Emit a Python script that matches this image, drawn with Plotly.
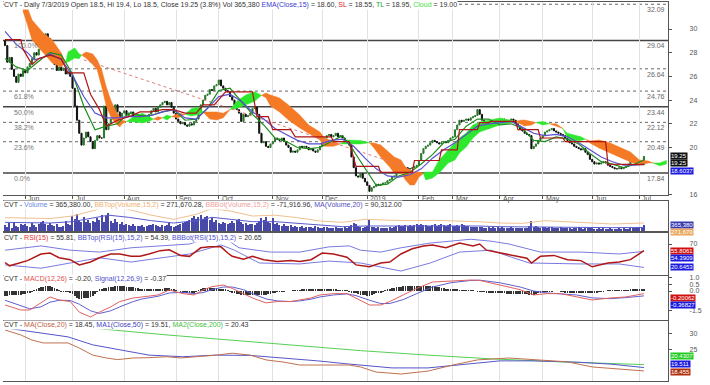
import plotly.graph_objects as go
from plotly.subplots import make_subplots

# ---------------- DATA ----------------
month_idx = [9, 30, 53, 76, 95, 119, 141, 161, 184, 199, 220, 239, 261, 282]
month_labels = ["Jun", "Jul", "Aug", "Sep", "Oct", "Nov", "Dec", "2019", "Feb", "Mar", "Apr", "May", "Jun", "Jul"]

first_open = 29.0
closes = [
    28.6, 27.2, 27.6, 26.6, 26.0, 25.5, 26.2, 26.0, 26.5, 26.3,
    26.8, 27.1, 27.5, 28.0, 27.8, 28.3, 28.9, 29.0, 29.6, 29.2,
    28.2, 27.9, 27.0, 26.5, 26.8, 26.5, 26.7, 26.2, 26.4, 26.0,
    25.0, 23.5, 22.3, 21.2, 20.2, 20.8, 21.3, 20.9, 20.5, 19.9,
    20.6, 21.0, 20.8, 20.8, 23.5, 21.5, 22.0, 22.4, 22.5, 23.6,
    23.0, 22.6, 22.9, 23.1, 22.7, 22.9, 23.0, 22.6, 22.8, 22.7,
    22.5, 22.3, 22.6, 22.4, 22.8, 23.1, 23.3, 23.0, 23.4, 23.6,
    23.8, 23.9, 23.6, 23.8, 23.4, 22.9, 22.4, 22.2, 22.0, 22.1,
    21.9, 21.8, 22.0, 21.9, 22.2, 22.4, 23.0, 23.6, 24.0, 24.4,
    24.5, 24.9, 24.8, 25.2, 25.3, 25.7, 25.2, 25.0, 24.8, 24.7,
    24.3, 24.0, 23.6, 23.2, 22.9, 22.2, 22.8, 22.6, 22.7, 22.9,
    23.3, 23.4, 22.8, 21.2, 20.4, 20.5, 20.1, 20.0, 20.3, 20.5,
    20.8, 20.7, 20.6, 20.8, 20.5, 20.2, 20.0, 19.6, 19.7, 19.6,
    19.8, 20.1, 20.0, 20.1, 20.0, 19.8, 19.9, 19.7, 19.6, 19.8,
    20.1, 20.4, 20.8, 21.0, 21.1, 20.9, 21.0, 21.2, 20.9, 21.0,
    20.8, 20.6, 20.4, 20.2, 19.2, 18.3, 17.6, 17.5, 17.8, 17.4,
    17.1, 16.8, 16.3, 16.6, 16.7, 16.9, 16.8, 16.9, 17.0, 17.0,
    17.2, 17.3, 17.5, 17.6, 17.9, 18.3, 18.4, 18.2, 18.3, 18.2,
    18.2, 18.3, 18.4, 18.5, 18.9, 19.5, 19.9, 20.1, 20.2, 20.4,
    20.6, 20.5, 20.4, 20.3, 20.4, 20.5, 20.4, 20.6, 20.8, 20.9,
    21.5, 21.9, 22.3, 22.2, 22.3, 22.4, 22.3, 22.5, 22.6, 22.7,
    23.2, 22.8, 22.3, 21.7, 21.6, 21.7, 21.8, 21.9, 22.1, 22.2,
    22.3, 22.4, 22.3, 22.2, 22.3, 22.4, 22.3, 22.0, 21.8, 21.5,
    21.4, 21.2, 21.1, 21.0, 19.9, 20.1, 20.3, 20.6, 20.8, 21.0,
    21.3, 21.4, 21.5, 21.6, 21.4, 21.3, 21.2, 21.1, 21.0, 20.8,
    20.6, 20.4, 20.3, 20.1, 20.0, 19.9, 19.8, 19.9, 19.6, 19.4,
    19.0, 18.8, 18.6, 18.7, 18.6, 18.7, 18.8, 18.7, 18.5, 18.4,
    18.3, 18.2, 18.2, 18.3, 18.2, 18.3, 18.4, 18.6, 18.8, 18.9,
    18.8, 18.8, 18.7, 18.55, 19.25,
]

volume_k = [
    380, 250, 480, 200, 520, 300, 260, 450, 340, 420,
    320, 260, 500, 360, 220, 400, 540, 600, 450, 380,
    500, 360, 300, 440, 260, 220, 330, 620, 410, 350,
    900, 720, 1000, 680, 560, 820, 520, 650, 460, 600,
    520, 760, 640, 950, 560, 880, 1100, 620, 480, 700,
    560, 440, 520, 380, 420, 340, 300, 400, 280, 330,
    300, 380, 240, 300, 340, 380, 420, 360, 300, 260,
    360, 280, 380, 460, 320, 260, 330, 380, 420, 480,
    520, 600, 680, 780, 900, 720, 860, 960, 700, 820,
    880, 640, 760, 560, 660, 500, 440, 560, 480, 420,
    460, 580, 500, 640, 720, 520, 440, 480, 360, 400,
    420, 360, 500, 600, 760, 640, 820, 560, 460, 780,
    400, 460, 340, 320, 420, 300, 280, 340, 260, 300,
    240, 220, 300, 200, 260, 220, 240, 200, 280, 220,
    200, 170, 220, 240, 190, 210, 180, 220, 200, 170,
    190, 230, 210, 270, 350, 460, 420, 300, 250, 210,
    240, 300, 660, 260, 240, 200, 220, 190, 210, 170,
    200, 240, 190, 260, 300, 340, 280, 320, 360, 300,
    340, 320, 380, 400, 360, 420, 380, 340, 300, 280,
    360, 400, 320, 380, 440, 340, 280, 360, 400, 320,
    300, 360, 320, 400, 350, 280, 300, 240, 270, 230,
    220, 260, 240, 210, 200, 230, 180, 250, 210, 240,
    200, 230, 170, 210, 190, 240, 210, 180, 200, 170,
    180, 210, 170, 300, 600, 260, 300, 230, 210, 270,
    240, 200, 230, 260, 210, 190, 170, 230, 200, 180,
    210, 180, 150, 200, 170, 230, 180, 150, 210, 180,
    170, 200, 150, 140, 180, 120, 170, 150, 140, 170,
    140, 120, 150, 170, 120, 190, 150, 140, 170, 200,
    190, 230, 170, 210, 365.38,
]

macd_hist = [
    -0.36, -0.35, -0.34, -0.33, -0.32, -0.31, -0.30, -0.29, -0.25, -0.20,
    -0.14, -0.09, -0.02, 0.05, 0.12, 0.20, 0.28, 0.32, 0.36, 0.39,
    0.40, 0.32, 0.22, 0.12, 0.02, -0.01, -0.03, -0.05, -0.06, -0.08,
    -0.20, -0.35, -0.50, -0.60, -0.58, -0.55, -0.52, -0.50, -0.47, -0.35,
    -0.20, -0.05, 0.10, 0.15, 0.20, 0.25, 0.28, 0.30, 0.33, 0.36,
    0.38, 0.40, 0.38, 0.36, 0.33, 0.30, 0.28, 0.27, 0.24, 0.20,
    0.17, 0.15, 0.14, 0.13, 0.12, 0.11, 0.10, 0.10, 0.10, 0.12,
    0.15, 0.19, 0.22, 0.23, 0.18, 0.12, 0.06, 0.00, -0.05, -0.10,
    -0.10, -0.11, -0.11, -0.10, -0.10, -0.02, 0.06, 0.13, 0.20, 0.21,
    0.22, 0.23, 0.23, 0.22, 0.20, 0.18, 0.16, 0.15, 0.10, 0.05,
    -0.02, -0.10, -0.15, -0.20, -0.25, -0.28, -0.30, -0.31, -0.32, -0.33,
    -0.33, -0.33, -0.32, -0.32, -0.31, -0.30, -0.30, -0.26, -0.20, -0.12,
    -0.08, -0.05, -0.03, -0.02, -0.01, 0.00, 0.00, 0.00, 0.02, 0.04,
    0.06, 0.07, 0.08, 0.08, 0.09, 0.09, 0.09, 0.10, 0.12, 0.14,
    0.15, 0.14, 0.13, 0.12, 0.11, 0.10, 0.09, 0.08, 0.06, 0.05,
    0.04, 0.03, 0.02, -0.04, -0.10, -0.15, -0.18, -0.22, -0.27, -0.31,
    -0.34, -0.36, -0.36, -0.30, -0.22, -0.16, -0.12, -0.11, -0.05, 0.02,
    0.10, 0.15, 0.20, 0.25, 0.28, 0.31, 0.33, 0.35, 0.37, 0.38,
    0.39, 0.40, 0.40, 0.40, 0.40, 0.39, 0.39, 0.38, 0.38, 0.38,
    0.38, 0.35, 0.32, 0.28, 0.24, 0.20, 0.17, 0.14, 0.13, 0.11,
    0.10, 0.08, 0.07, 0.06, 0.05, 0.04, 0.03, 0.03, 0.02, 0.00,
    -0.01, -0.02, -0.04, -0.06, -0.08, -0.10, -0.12, -0.14, -0.16, -0.17,
    -0.17, -0.18, -0.18, -0.19, -0.19, -0.20, -0.20, -0.20, -0.20, -0.20,
    -0.22, -0.24, -0.26, -0.28, -0.30, -0.30, -0.22, -0.15, -0.10, -0.06,
    -0.05, -0.03, -0.02, -0.01, 0.00, 0.00, 0.00, -0.02, -0.05, -0.08,
    -0.10, -0.12, -0.14, -0.15, -0.15, -0.16, -0.16, -0.16, -0.16, -0.16,
    -0.16, -0.15, -0.12, -0.10, -0.07, -0.05, -0.02, 0.00, 0.02, 0.04,
    0.05, 0.05, 0.05, 0.05, 0.05, 0.05, 0.05, 0.06, 0.08, 0.10,
    0.12, 0.13, 0.14, 0.15, 0.17,
]

# price-pane indicators (sampled)
ema_idx = [0, 5, 10, 13, 17, 20, 25, 30, 35, 40, 45, 50, 55, 60, 65, 70, 75, 80, 85, 90, 95, 100, 105, 110, 115,
           120, 125, 130, 135, 140, 145, 150, 155, 160, 165, 170, 175, 180, 185, 190, 195, 200, 205, 210, 215, 220,
           225, 230, 235, 240, 245, 250, 255, 260, 265, 270, 275, 280, 284]
ema15 = [29.8, 28.7, 28.0, 27.4, 27.6, 27.9, 27.4, 26.1, 24.3, 22.9, 22.5, 22.5, 22.6, 22.6, 22.7, 23.0, 23.2, 22.5,
         22.4, 23.3, 24.3, 24.5, 23.9, 23.0, 22.4, 21.6, 21.1, 20.6, 20.3, 20.3, 20.6, 20.7, 20.1, 19.1, 18.2, 17.6,
         17.5, 17.7, 18.2, 19.1, 19.8, 20.4, 21.1, 21.8, 22.0, 22.1, 22.2, 21.7, 21.2, 21.0, 21.1, 20.9, 20.4, 19.8,
         19.2, 18.8, 18.5, 18.5, 18.6]
tl_idx = ema_idx
tl = [27.5, 26.8, 26.5, 27.0, 27.6, 28.0, 27.8, 26.2, 23.5, 21.5, 21.8, 22.0, 22.9, 22.7, 22.7, 23.0, 23.2, 22.3,
      22.4, 23.3, 24.8, 25.0, 23.9, 22.8, 21.9, 20.8, 20.5, 20.0, 19.9, 20.0, 20.5, 21.0, 19.7, 18.2, 16.8, 16.9,
      17.6, 17.9, 18.6, 19.4, 20.4, 20.7, 21.8, 22.4, 22.4, 21.9, 22.0, 21.6, 20.6, 20.5, 20.9, 20.7, 20.3, 19.5,
      18.8, 18.6, 18.3, 18.6, 18.95]
sl_idx = [0, 7, 8, 12, 15, 20, 25, 28, 35, 38, 42, 45, 50, 55, 60, 65, 70, 75, 80, 85, 88, 93, 98, 110, 112, 117,
          119, 127, 129, 145, 146, 153, 156, 166, 167, 181, 182, 193, 194, 201, 202, 210, 211, 215, 216, 227, 228,
          237, 238, 248, 249, 267, 268, 284]
sl = [29.1, 29.1, 28.3, 27.0, 27.5, 27.8, 27.5, 26.3, 26.3, 24.5, 23.2, 21.8, 22.3, 22.6, 23.0, 23.0, 23.2, 23.2,
      22.9, 22.9, 23.6, 23.6, 24.7, 24.7, 22.6, 22.6, 21.5, 21.5, 20.9, 20.9, 20.5, 20.5, 18.4, 18.4, 17.9, 17.9,
      18.9, 18.9, 19.8, 19.8, 21.5, 21.5, 22.1, 22.1, 22.2, 22.2, 21.5, 21.5, 20.8, 20.8, 20.5, 20.5, 18.6, 18.55]

# Ichimoku cloud (already shifted forward)
cloud_idx = [8, 10, 12, 17, 21, 25, 26, 27, 28, 31, 33, 34, 36, 39, 41, 43, 45, 47, 49, 51, 52, 54, 58, 61, 64, 66,
             68, 70, 72, 74, 77, 80, 83, 86, 88, 91, 94, 97, 100, 103, 107, 111, 114, 116, 118, 122, 126, 131, 135,
             140, 142, 146, 149, 152, 158, 162, 164, 167, 171, 173, 176, 178, 180, 182, 184, 186, 187, 190, 193, 197,
             200, 202, 205, 208, 211, 216, 220, 224, 227, 229, 231, 234, 236, 239, 242, 245, 248, 250, 253, 256, 258,
             260, 264, 269, 273, 278, 282, 286, 288, 291, 294]
cloud_top = [33.0, 31.77, 30.76, 29.66, 29.07, 27.97, 27.5, 27.2, 28.06, 28.4, 27.9, 27.8, 28.06, 27.9, 27.38, 26.54,
             25.11, 24.0, 23.16, 22.57, 22.3, 22.2, 22.7, 22.9, 22.6, 22.4, 22.6, 22.5, 22.74, 22.6, 22.9, 22.8,
             23.3, 23.4, 23.0, 23.0, 23.0, 22.9, 23.2, 23.9, 24.43, 24.7, 24.4, 24.6, 24.43, 24.18, 23.59, 22.74,
             21.9, 21.3, 20.8, 20.5, 20.3, 20.63, 20.6, 20.4, 20.38, 20.21, 19.54, 19.2, 18.95, 18.35, 18.1, 17.93,
             17.93, 17.8, 17.93, 17.93, 18.95, 19.79, 20.38, 20.8, 21.22, 21.9, 22.15, 22.32, 22.49, 22.32, 22.2,
             22.3, 22.32, 22.2, 22.1, 22.2, 22.0, 22.0, 21.6, 21.2, 21.05, 20.9, 20.7, 20.55, 20.63, 20.38, 20.04,
             19.62, 18.95, 18.85, 18.7, 18.7, 18.9]
cloud_bot = [31.5, 30.34, 29.07, 27.97, 27.13, 26.79, 27.0, 27.2, 27.21, 27.55, 27.5, 27.8, 27.55, 27.0, 26.54, 25.11,
             23.5, 22.6, 22.07, 21.73, 22.0, 22.2, 22.15, 22.07, 22.2, 22.4, 22.3, 22.5, 22.32, 22.6, 22.5, 22.8,
             22.65, 22.8, 23.0, 22.4, 22.32, 22.5, 23.2, 23.3, 23.6, 23.9, 24.4, 24.2, 23.5, 23.0, 22.32, 21.65,
             21.2, 20.63, 20.1, 20.1, 20.3, 20.3, 20.3, 20.4, 19.96, 19.2, 18.35, 17.85, 17.85, 17.26, 16.84, 16.84,
             17.5, 17.8, 17.26, 17.43, 17.85, 18.69, 18.95, 19.54, 20.04, 20.8, 21.31, 21.65, 21.9, 22.07, 22.2,
             22.0, 21.81, 21.9, 22.1, 21.9, 22.0, 21.8, 21.6, 20.8, 20.55, 20.6, 20.7, 20.38, 19.96, 19.54, 19.2,
             18.78, 18.52, 18.7, 18.7, 18.45, 18.6]
cloud_is_green = [False, False, False, False, False, False, False, None, True, True, True, None, False, False, False,
                  False, False, False, False, False, False, None, True, True, True, None, False, None, True, None,
                  False, None, True, True, None, False, False, False, None, True, True, True, None, False, False,
                  False, False, False, False, False, False, False, None, True, True, None, False, False, False, False,
                  False, False, False, False, False, None, True, True, True, True, True, True, True, True, True, True,
                  True, True, None, False, False, False, None, True, None, False, None, True, True, True, None, False,
                  False, False, False, False, False, False, None, True, True]

trend_idx = [35, 176]
trend_val = [27.4, 18.5]

fib_levels = [32.09, 29.04, 26.64, 24.76, 23.44, 22.12, 20.49, 17.84]
fib_solid = [False, True, False, False, True, False, False, True]
fib_pct = {29.04: "100.0%", 24.76: "61.8%", 23.44: "50.0%", 22.12: "38.2%", 20.49: "23.6%", 17.84: "0.0%"}

volma_idx = [0, 10, 20, 30, 40, 46, 55, 65, 75, 85, 92, 100, 110, 120, 130, 140, 150, 160, 170, 180, 190, 200, 210,
             220, 230, 240, 250, 260, 270, 284]
vol_ma = [520, 500, 480, 560, 800, 950, 820, 620, 480, 620, 820, 720, 560, 560, 450, 330, 260, 300, 300, 320, 340,
          330, 300, 260, 240, 260, 240, 220, 200, 210]
vol_bbtop = [800, 760, 750, 900, 1250, 1600, 1300, 950, 700, 1000, 1350, 1200, 900, 950, 800, 600, 520, 700, 650,
             620, 640, 620, 560, 480, 460, 620, 560, 480, 420, 480]

rsi_idx = [0, 2, 10, 16, 20, 24, 29, 33, 38, 42, 47, 51, 56, 60, 64, 69, 73, 78, 82, 87, 91, 96, 99, 101, 106, 110,
           115, 121, 127, 131, 136, 141, 146, 152, 156, 162, 167, 171, 176, 181, 186, 190, 196, 202, 208, 211, 214,
           220, 226, 232, 234, 238, 244, 250, 256, 261, 268, 273, 278, 281, 284]
rsi = [31, 24, 35, 49, 51, 41, 37, 26, 32, 41, 49, 49, 44, 44, 49, 56, 58, 46, 44, 62, 64, 64, 51, 44, 38, 44, 37,
       33, 35, 33, 37, 51, 49, 42, 26, 22, 30, 32, 49, 60, 66, 68, 62, 72, 66, 70, 57, 51, 46, 40, 30, 44, 46, 37,
       35, 22, 30, 32, 37, 46, 55.81]
rsib_idx = [0, 16, 29, 42, 56, 69, 82, 89, 94, 99, 104, 118, 131, 144, 153, 158, 167, 176, 189, 207, 216, 224, 238,
            256, 273, 284]
rsi_bbtop = [57, 66, 57, 53, 62, 66, 70, 80, 85, 78, 62, 53, 53, 64, 66, 57, 53, 62, 72, 80, 76, 70, 53, 53, 49, 54.39]
rsil_idx = [0, 16, 29, 42, 56, 69, 82, 96, 102, 113, 131, 144, 158, 176, 189, 202, 216, 224, 233, 256, 273, 284]
rsi_bbbot = [26, 19, 30, 41, 32, 41, 49, 68, 57, 30, 28, 34, 30, 13, 30, 53, 57, 44, 30, 28, 28, 20.65]

macd_idx = [0, 7, 11, 16, 20, 24, 29, 33, 38, 42, 47, 51, 57, 61, 68, 73, 79, 84, 88, 92, 97, 101, 106, 110, 116,
            121, 127, 131, 136, 140, 146, 152, 156, 162, 167, 171, 177, 183, 190, 198, 207, 211, 220, 229, 235, 241,
            247, 254, 261, 269, 276, 284]
macd = [-1.06, -1.44, -1.44, -0.9, -0.45, -0.68, -0.8, -1.6, -1.97, -1.6, -1.2, -0.8, -0.53, -0.45, -0.3, 0.08,
        -0.2, -0.3, 0.08, 0.33, 0.45, 0.2, -0.2, -0.53, -0.9, -0.8, -0.8, -0.68, -0.53, -0.3, -0.2, -0.2, -0.53,
        -1.06, -1.06, -0.8, -0.3, 0.2, 0.68, 0.75, 0.83, 0.8, 0.45, 0.1, -0.3, -0.2, -0.2, -0.45, -0.68, -0.53,
        -0.45, -0.20]
signal = [-0.7, -1.15, -1.35, -1.2, -0.85, -0.7, -0.72, -1.0, -1.5, -1.7, -1.5, -1.2, -0.8, -0.6, -0.4, -0.15,
          -0.1, -0.2, -0.12, 0.1, 0.3, 0.3, 0.1, -0.2, -0.6, -0.75, -0.8, -0.75, -0.62, -0.45, -0.3, -0.22, -0.35,
          -0.7, -0.95, -0.95, -0.65, -0.2, 0.3, 0.62, 0.8, 0.82, 0.62, 0.3, 0.0, -0.15, -0.2, -0.3, -0.52, -0.58,
          -0.5, -0.37]

ma20_idx = [0, 7, 12, 17, 28, 33, 39, 45, 50, 57, 64, 72, 78, 87, 94, 101, 109, 116, 124, 131, 139, 146, 153, 158,
            165, 176, 188, 199, 210, 224, 235, 250, 261, 273, 284]
ma20 = [31.25, 29.7, 28.1, 27.2, 27.2, 25.6, 23.4, 22.5, 22.0, 22.5, 22.6, 22.9, 22.5, 22.9, 23.4, 24.0, 23.4, 21.9,
        21.2, 20.3, 20.3, 20.5, 20.3, 19.7, 18.1, 17.5, 18.4, 20.3, 21.9, 22.5, 22.0, 21.3, 19.7, 19.1, 18.45]
ma50_idx = [0, 12, 28, 39, 51, 64, 79, 94, 109, 124, 139, 153, 158, 172, 188, 202, 220, 235, 254, 269, 284]
ma50 = [31.9, 30.6, 29.1, 26.6, 25.0, 23.4, 22.9, 23.4, 23.3, 22.5, 21.6, 20.6, 20.3, 19.4, 19.4, 20.3, 21.6, 21.6,
        21.2, 20.6, 19.51]
ma200_idx = [0, 33, 72, 116, 158, 188, 217, 247, 284]
ma200 = [32.8, 32.2, 29.7, 27.2, 24.8, 23.4, 22.2, 21.3, 20.43]

# ---------------- FIGURE ----------------
n = len(closes)
idx = list(range(n))
opens = [first_open] + closes[:-1]
highs = [max(o, c) for o, c in zip(opens, closes)]
lows = [min(o, c) for o, c in zip(opens, closes)]

fig = make_subplots(rows=5, cols=1, shared_xaxes=True, vertical_spacing=0)

M_T, M_B, H = 2, 4, 379


def py(px):
    return 1 - (px - M_T) / H


def px_x(px):
    return (px - 3) / 665.0


ORANGE = "#f47a25"
GREEN = "#2ee82e"

# cloud polygons
pts = list(zip(cloud_idx, cloud_top, cloud_bot, cloud_is_green))
segs = []
cur = []
for p in pts:
    if p[3] is None:
        cur.append(p)
        if len(cur) > 1:
            segs.append(cur)
        cur = [p]
    else:
        cur.append(p)
if len(cur) > 1:
    segs.append(cur)
for s in segs:
    flags = [q[3] for q in s if q[3] is not None]
    if not flags:
        continue
    col = GREEN if flags[0] else ORANGE
    xs = [q[0] for q in s]
    fig.add_trace(go.Scatter(x=xs + xs[::-1], y=[q[1] for q in s] + [q[2] for q in s][::-1],
                             fill="toself", fillcolor=col, mode="lines",
                             line=dict(color=col, width=0.5), hoverinfo="skip", showlegend=False), row=1, col=1)

fig.add_trace(go.Scatter(x=trend_idx, y=trend_val, mode="lines",
                         line=dict(color="#e07a7a", width=1, dash="dot"), showlegend=False), row=1, col=1)

fig.add_trace(go.Candlestick(x=idx, open=opens, high=highs, low=lows, close=closes,
                             increasing=dict(line=dict(color="#2a7a2a", width=1), fillcolor="#2a7a2a"),
                             decreasing=dict(line=dict(color="#111111", width=1), fillcolor="#111111"),
                             showlegend=False), row=1, col=1)
fig.add_trace(go.Scatter(x=tl_idx, y=tl, mode="lines", line=dict(color="#1e8c1e", width=1.2), showlegend=False),
              row=1, col=1)
fig.add_trace(go.Scatter(x=ema_idx, y=ema15, mode="lines", line=dict(color="#5a4fd0", width=1.2),
                         showlegend=False), row=1, col=1)
fig.add_trace(go.Scatter(x=sl_idx, y=sl, mode="lines", line=dict(color="#b01515", width=1.2), showlegend=False),
              row=1, col=1)

# volume
fig.add_trace(go.Bar(x=idx, y=volume_k, marker=dict(color="#4848a8", line=dict(width=0)), width=0.5,
                     showlegend=False), row=2, col=1)
fig.add_trace(go.Scatter(x=volma_idx, y=vol_bbtop, mode="lines", line=dict(color="#f0c090", width=1),
                         showlegend=False), row=2, col=1)
fig.add_trace(go.Scatter(x=volma_idx, y=vol_ma, mode="lines", line=dict(color="#5a5ad0", width=1),
                         showlegend=False), row=2, col=1)

# RSI
fig.add_trace(go.Scatter(x=rsib_idx, y=rsi_bbtop, mode="lines", line=dict(color="#7a7ae0", width=1),
                         showlegend=False), row=3, col=1)
fig.add_trace(go.Scatter(x=rsil_idx, y=rsi_bbbot, mode="lines", line=dict(color="#7a7ae0", width=1),
                         showlegend=False), row=3, col=1)
fig.add_trace(go.Scatter(x=rsi_idx, y=rsi, mode="lines", line=dict(color="#b01818", width=1.5),
                         showlegend=False), row=3, col=1)

# MACD
fig.add_trace(go.Bar(x=idx, y=macd_hist, marker=dict(color="#333333", line=dict(width=0)), width=0.35,
                     showlegend=False), row=4, col=1)
fig.add_trace(go.Scatter(x=macd_idx, y=signal, mode="lines", line=dict(color="#6060d0", width=1),
                         showlegend=False), row=4, col=1)
fig.add_trace(go.Scatter(x=macd_idx, y=macd, mode="lines", line=dict(color="#e06060", width=1),
                         showlegend=False), row=4, col=1)

# MAs
fig.add_trace(go.Scatter(x=ma200_idx, y=ma200, mode="lines", line=dict(color="#55d055", width=1),
                         showlegend=False), row=5, col=1)
fig.add_trace(go.Scatter(x=ma50_idx, y=ma50, mode="lines", line=dict(color="#5555c8", width=1),
                         showlegend=False), row=5, col=1)
fig.add_trace(go.Scatter(x=ma20_idx, y=ma20, mode="lines", line=dict(color="#c07050", width=1),
                         showlegend=False), row=5, col=1)

FONT = "Liberation Sans, Arial, sans-serif"
AX_COL = "#555555"
xcommon = dict(range=[-0.9, 294.7], tickvals=month_idx, showticklabels=False, showgrid=True,
               gridcolor="#e2e2e2", gridwidth=1, showline=True, linecolor=AX_COL, linewidth=1.3, mirror=True,
               zeroline=False, rangeslider=dict(visible=False))
for i in range(1, 6):
    fig.update_xaxes(xcommon, row=i, col=1)
fig.update_xaxes(ticks="outside", ticklen=3, tickcolor=AX_COL, row=1, col=1)

ycommon = dict(side="right", showline=True, linecolor=AX_COL, linewidth=1.3, ticks="outside", ticklen=3,
               tickcolor=AX_COL, showgrid=False, zeroline=False, tickfont=dict(size=7, color="#555", family=FONT),
               ticklabelstandoff=16)
domains = [[py(195), py(2)], [py(231), py(201)], [py(275), py(233)], [py(320), py(276)], [py(381), py(321)]]
ranges = [[15.99, 32.28], [0, 1800], [4.7, 93.2], [-2.197, 1.136], [15.31, 34.06]]
tvals = [[16, 20, 22, 24, 26, 28, 30], [], [70], [-1.5, 0.0, 0.5, 1.0], [25, 30]]
ttext = [None, None, None, ["-1.5", "0.0", "0.5", "1.0"], None]
for i in range(5):
    d = dict(ycommon, domain=domains[i], range=ranges[i], tickvals=tvals[i])
    if ttext[i]:
        d["ticktext"] = ttext[i]
    if i == 1:
        d["ticks"] = ""
    fig.update_yaxes(d, row=i + 1, col=1)

shapes = []
for lv, solid in zip(fib_levels, fib_solid):
    shapes.append(dict(type="line", xref="paper", x0=0, x1=1, yref="y", y0=lv, y1=lv,
                       line=dict(color="#444444" if solid else "#666666", width=1.5 if solid else 1,
                                 dash="solid" if solid else "dot"), layer="below"))

ann = []
small = dict(size=7, family=FONT)
for lv in fib_levels:
    ann.append(dict(xref="paper", x=1, xanchor="right", yref="y", y=lv, yanchor="top", text="%.2f" % lv,
                    showarrow=False, font=dict(small, color="#666"), xshift=-1))
    if lv in fib_pct:
        ann.append(dict(xref="paper", x=px_x(12), xanchor="left", yref="y", y=lv, yanchor="top",
                        text=fib_pct[lv], showarrow=False, font=dict(small, color="#777")))

for mi, ml in zip(month_idx, month_labels):
    ann.append(dict(xref="x", x=mi, xanchor="left", yref="paper", y=py(198.5), yanchor="middle", text=ml,
                    showarrow=False, font=dict(small, color="#555"), xshift=1))

headers = [
    (5, "CVT - Daily 7/3/2019 Open 18.5, Hi 19.4, Lo 18.5, Close 19.25 (3.8%) Vol 365,380 "
        "<span style='color:#3a3ad0'>EMA(Close,15)</span> = 18.60, <span style='color:#e02020'>SL</span> = 18.55, "
        "<span style='color:#20a020'>TL</span> = 18.95, <span style='color:#44dd44'>Cloud</span> = 19.00"),
    (204.5, "CVT - <span style='color:#6a8ae0'>Volume</span> = 365,380.00, "
            "<span style='color:#f0b070'>BBTop(Volume,15,2)</span> = 271,670.28, "
            "<span style='color:#f0a0a0'>BBBot(Volume,15,2)</span> = -71,916.96, "
            "<span style='color:#5050c0'>MA(Volume,20)</span> = 90,312.00"),
    (237.5, "CVT - <span style='color:#e03030'>RSI(15)</span> = 55.81, "
            "<span style='color:#5050d0'>BBTop(RSI(15),15,2)</span> = 54.39, "
            "<span style='color:#5050d0'>BBBot(RSI(15),15,2)</span> = 20.65"),
    (279, "CVT - <span style='color:#e05050'>MACD(12,26)</span> = -0.20, "
          "<span style='color:#5050d0'>Signal(12,26,9)</span> = -0.37"),
    (325, "CVT - <span style='color:#c06040'>MA(Close,20)</span> = 18.45, "
          "<span style='color:#4040c0'>MA1(Close,50)</span> = 19.51, "
          "<span style='color:#40c040'>MA2(Close,200)</span> = 20.43"),
]
for ypx, txt in headers:
    ann.append(dict(xref="paper", x=0, xanchor="left", yref="paper", y=py(ypx), yanchor="middle", text=txt,
                    showarrow=False, font=dict(small, color="#333"), bgcolor="white", borderpad=0))

# right-edge value flags: (axis, value, text, colour, vertical nudge in px)
flags = [
    ("y", 19.25, "19.25", "#111111", 0),
    ("y", 19.25, "19.25", "#111111", -7),
    ("y", 18.6037, "18.6037", "#1a1ae0", -6.5),
    ("y2", 365.38, "365,380", "#3a3ab0", 0),
    ("y2", 365.38, "271,670", "#e8a860", -7),
    ("y3", 55.81, "55.8061", "#d01010", 0),
    ("y3", 54.39, "54.3909", "#1a1ae0", -6.8),
    ("y3", 20.65, "20.6453", "#1a1ae0", 0),
    ("y4", -0.20, "-0.20062", "#d01010", -4),
    ("y4", -0.368, "-0.36827", "#1a1ae0", -8.7),
    ("y5", 20.43, "20.4307", "#22cc22", 8.5),
    ("y5", 19.51, "19.511", "#1a1ae0", 4),
    ("y5", 18.455, "18.455", "#b03010", -0.8),
]
for yr, v, t, c, sh in flags:
    ann.append(dict(xref="paper", x=1, xanchor="left", yref=yr, y=v, yanchor="middle", text=t, showarrow=False,
                    font=dict(size=6, family=FONT, color="white"), bgcolor=c, borderpad=0, xshift=2, yshift=sh))

fig.update_layout(width=710, height=385, margin=dict(l=3, r=42, t=M_T, b=M_B, autoexpand=False),
                  paper_bgcolor="white", plot_bgcolor="white", showlegend=False, bargap=0, shapes=shapes,
                  annotations=ann, font=dict(family=FONT))

fig.write_html("out.html", config={"displayModeBar": False},
               post_script="document.body.style.margin='0px';")
